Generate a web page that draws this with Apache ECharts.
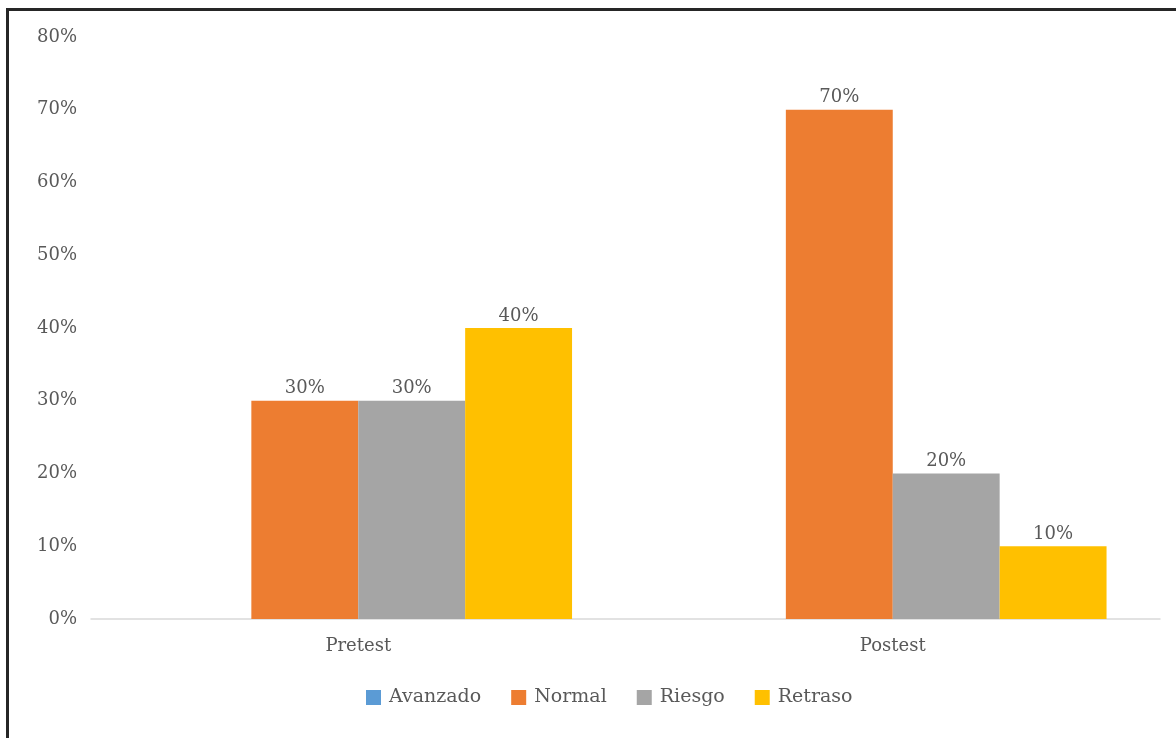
<!DOCTYPE html>
<html>
<head>
<meta charset="utf-8">
<script src="https://cdn.jsdelivr.net/npm/echarts@6/dist/echarts.min.js"></script>
<style>
html,body{margin:0;padding:0;background:#fff;}
#c{width:1176px;height:738px;}
</style>
</head>
<body>
<div id="c"></div>
<script>
const categories = ['Pretest', 'Postest'];
const avanzado = [0, 0];
const normal = [30, 70];
const riesgo = [30, 20];
const retraso = [40, 10];
const yTicks = [0, 10, 20, 30, 40, 50, 60, 70, 80];

const seriesNames = ['Avanzado', 'Normal', 'Riesgo', 'Retraso'];
const seriesData = [avanzado, normal, riesgo, retraso];
const colors = ['#5B9BD5', '#ED7D31', '#A5A5A5', '#FFC000'];
const font = 'DejaVu Serif';
const txt = '#595959';

const chart = echarts.init(document.getElementById('c'));
chart.setOption({
  animation: false,
  backgroundColor: '#fff',
  grid: {left: 91, right: 16, top: 37, bottom: 119},
  graphic: [
    {type: 'line', shape: {x1: 7.5, y1: 9.5, x2: 7.5, y2: 738}, style: {stroke: '#262626', lineWidth: 3}},
    {type: 'line', shape: {x1: 6, y1: 9.5, x2: 1176, y2: 9.5}, style: {stroke: '#262626', lineWidth: 3}}
  ],
  legend: {
    bottom: 26,
    left: 361,
    itemWidth: 15,
    itemHeight: 15,
    itemGap: 30,
    icon: 'rect',
    textStyle: {fontFamily: font, fontSize: 19, color: txt, padding: [0, 0, 0, 3]},
    data: seriesNames
  },
  xAxis: {
    type: 'category',
    data: categories,
    axisLine: {lineStyle: {color: '#D9D9D9', width: 1.5}},
    axisTick: {show: false},
    axisLabel: {fontFamily: font, fontSize: 18, color: txt, margin: 18}
  },
  yAxis: {
    type: 'value',
    min: yTicks[0],
    max: yTicks[yTicks.length - 1],
    interval: 10,
    axisLine: {show: false},
    axisTick: {show: false},
    splitLine: {show: false},
    axisLabel: {fontFamily: font, fontSize: 18, color: txt, margin: 14, formatter: v => v + '%'}
  },
  series: seriesNames.map((n, i) => ({
    name: n,
    type: 'bar',
    data: seriesData[i],
    barGap: '0%',
    barCategoryGap: '20%',
    itemStyle: {color: colors[i]},
    label: {
      show: true,
      position: 'top',
      distance: 3,
      fontFamily: font,
      fontSize: 18,
      color: txt,
      formatter: p => p.value ? p.value + '%' : ''
    }
  }))
});
</script>
</body>
</html>
